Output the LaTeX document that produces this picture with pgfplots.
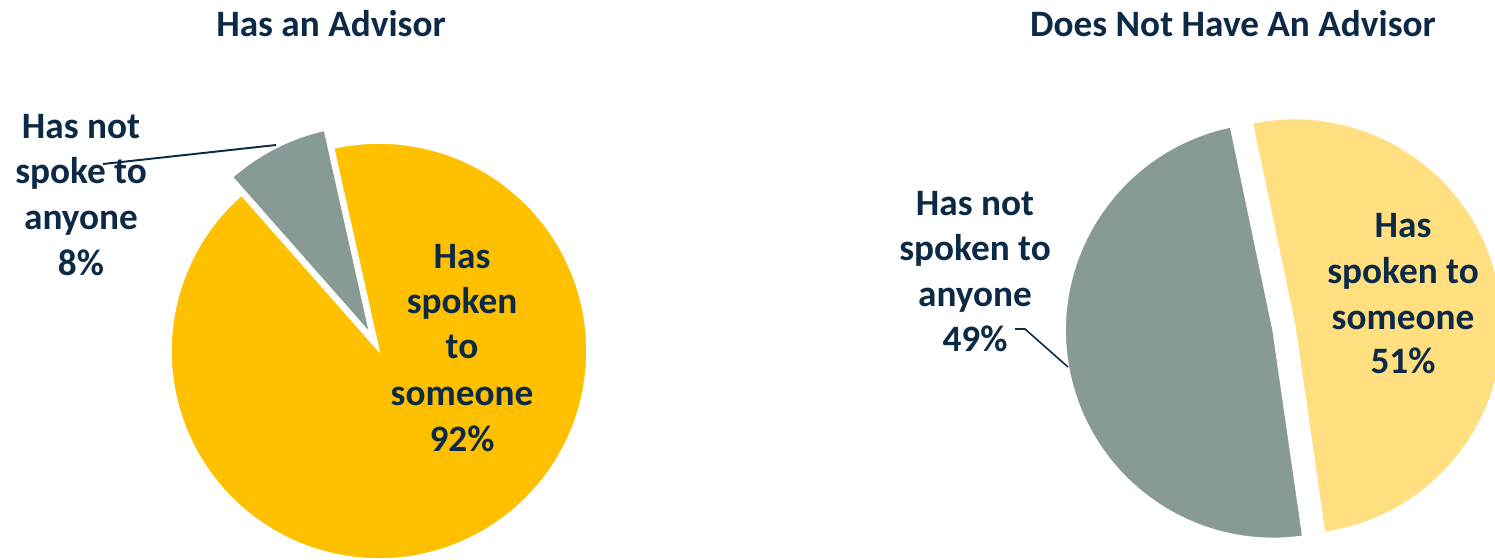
\documentclass[border=0pt]{standalone}
\usepackage{fontspec}
\setmainfont{Carlito}
\usepackage{pgfplots}
\pgfplotsset{compat=1.18}
\definecolor{gold}{HTML}{FFC000}
\definecolor{sage}{HTML}{879A96}
\definecolor{lightgold}{HTML}{FFDF80}
\definecolor{navy}{HTML}{0C2A46}
% data (percent)
\def\LeftNo{8}\def\LeftYes{92}
\def\RightNo{49}\def\RightYes{51}
% slice: cx, cy, start, end, radius, explode, colour
\newcommand{\slice}[7]{%
  \fill[#7, draw=white, line width=0.45pt] (axis cs:#1,#2) ++({(#3+#4)/2}:#6) -- ++({#3}:#5)
    arc[start angle={#3}, end angle={#4}, radius=#5] -- cycle;}
\tikzset{lbl/.style={font=\fontsize{10.6}{12.7}\selectfont\bfseries, text=navy, anchor=base, inner sep=0pt}}
\begin{document}
\begin{tikzpicture}
\begin{axis}[name=ax, scale only axis, width=14.95cm, height=5.59cm,
  xmin=0, xmax=1495, ymin=0, ymax=559, y dir=reverse, hide axis, clip=true]
% left pie: Has an Advisor
\slice{379}{351}{102.6+\LeftNo*3.6}{102.6+360}{2.08cm}{0cm}{gold}
\slice{379}{351}{102.6}{102.6+\LeftNo*3.6}{2.08cm}{0.2cm}{sage}
% right pie: Does Not Have An Advisor
\slice{1284}{328.5}{101.8}{101.8+\RightNo*3.6}{2.08cm}{0.11cm}{sage}
\slice{1284}{328.5}{101.8+\RightNo*3.6}{101.8+360}{2.08cm}{0.11cm}{lightgold}
% leader lines
\addplot[navy, line width=0.55pt] coordinates {(103,164) (276,145)};
\addplot[navy, line width=0.45pt] coordinates {(1015,329) (1025,329) (1068,367)};
% titles
\node[lbl] at (axis cs:331,36) {Has an Advisor};
\node[lbl] at (axis cs:1233,36) {Does Not Have An Advisor};
% labels
\node[lbl] at (axis cs:81,138) {Has not};
\node[lbl] at (axis cs:81,183) {spoke to};
\node[lbl] at (axis cs:81,229) {anyone};
\node[lbl] at (axis cs:81,275) {\LeftNo\%};
\node[lbl] at (axis cs:462,268) {Has};
\node[lbl] at (axis cs:462,313) {spoken};
\node[lbl] at (axis cs:462,358) {to};
\node[lbl] at (axis cs:462,405) {someone};
\node[lbl] at (axis cs:462,451) {\LeftYes\%};
\node[lbl] at (axis cs:975,215) {Has not};
\node[lbl] at (axis cs:975,260) {spoken to};
\node[lbl] at (axis cs:975,306) {anyone};
\node[lbl] at (axis cs:975,351) {\RightNo\%};
\node[lbl] at (axis cs:1403,237) {Has};
\node[lbl] at (axis cs:1403,283) {spoken to};
\node[lbl] at (axis cs:1403,329) {someone};
\node[lbl] at (axis cs:1403,373) {\RightYes\%};
\end{axis}
\pgfresetboundingbox
\path[use as bounding box] (ax.south west) rectangle (ax.north east);
\end{tikzpicture}
\end{document}
